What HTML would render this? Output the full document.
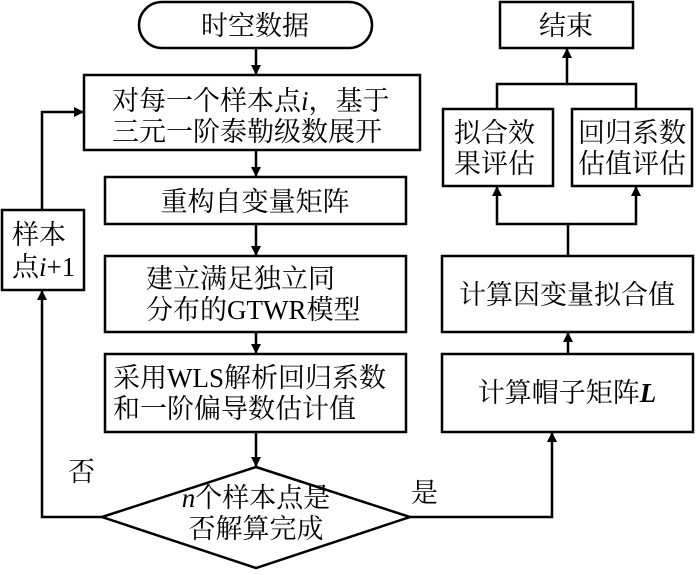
<!DOCTYPE html>
<html><head><meta charset="utf-8"><style>
body{margin:0;background:#fff}
svg text{font-family:"Liberation Serif","Noto Serif CJK SC",serif;font-size:27px;fill:#000}
</style></head><body>
<svg width="700" height="570" viewBox="0 0 700 570" xmlns="http://www.w3.org/2000/svg">
<defs><marker id="a" markerWidth="10" markerHeight="14" refX="9" refY="5" orient="auto" markerUnits="userSpaceOnUse"><path d="M0,0 L10,5 L0,10 Z" fill="#000"/></marker></defs>
<g fill="none" stroke="#000" stroke-width="2.5">
<rect x="139" y="2" width="233" height="46" rx="23"/>
<rect x="84" y="75" width="336" height="75"/>
<rect x="105" y="177" width="301" height="47"/>
<rect x="105" y="256" width="301" height="76"/>
<rect x="105" y="354" width="301" height="78"/>
<polygon points="102,517 256,467 410,517 256,568"/>
<rect x="2" y="210" width="82" height="80"/>
<rect x="442" y="354" width="251" height="78"/>
<rect x="442" y="256" width="251" height="76"/>
<rect x="443" y="109" width="110" height="77"/>
<rect x="572" y="109" width="120" height="77"/>
<rect x="500" y="2" width="133" height="46"/>
<polyline points="636,109 636,84 567,84"/>
</g>
<g fill="none" stroke="#000" stroke-width="2.5" marker-end="url(#a)">
<line x1="256" y1="48" x2="256" y2="74"/>
<line x1="256" y1="150" x2="256" y2="176"/>
<line x1="256" y1="224" x2="256" y2="255"/>
<line x1="256" y1="332" x2="256" y2="353"/>
<line x1="256" y1="432" x2="256" y2="466"/>
<polyline points="102,517 42,517 42,291"/>
<polyline points="42,210 42,112 83,112"/>
<polyline points="410,517 552,517 552,433"/>
<line x1="568" y1="354" x2="568" y2="333"/>
<polyline points="568,256 568,224 497,224 497,187"/>
<polyline points="568,224 636,224 636,187"/>
<polyline points="497,109 497,84 567,84 567,49"/>
</g>
<text x="255" y="35" text-anchor="middle">时空数据</text>
<text x="112" y="110">对每一个样本点<tspan font-style="italic">i</tspan>，基于</text>
<text x="112" y="141">三元一阶泰勒级数展开</text>
<text x="255" y="211" text-anchor="middle">重构自变量矩阵</text>
<text x="146" y="288">建立满足独立同</text>
<text x="146" y="319">分布的GTWR模型</text>
<text x="113" y="387">采用WLS解析回归系数</text>
<text x="113" y="418">和一阶偏导数估计值</text>
<text x="256" y="507" text-anchor="middle"><tspan font-style="italic">n</tspan>个样本点是</text>
<text x="256" y="538" text-anchor="middle">否解算完成</text>
<text x="12" y="244">样本</text>
<text x="12" y="276">点<tspan font-style="italic">i</tspan>+1</text>
<text x="68" y="481">否</text>
<text x="411" y="502">是</text>
<text x="567" y="402" text-anchor="middle">计算帽子矩阵<tspan font-style="italic" font-weight="bold">L</tspan></text>
<text x="567" y="304" text-anchor="middle">计算因变量拟合值</text>
<text x="454" y="142">拟合效</text>
<text x="454" y="173">果评估</text>
<text x="578" y="142">回归系数</text>
<text x="578" y="173">估值评估</text>
<text x="566" y="35" text-anchor="middle">结束</text>
</svg>
</body></html>
